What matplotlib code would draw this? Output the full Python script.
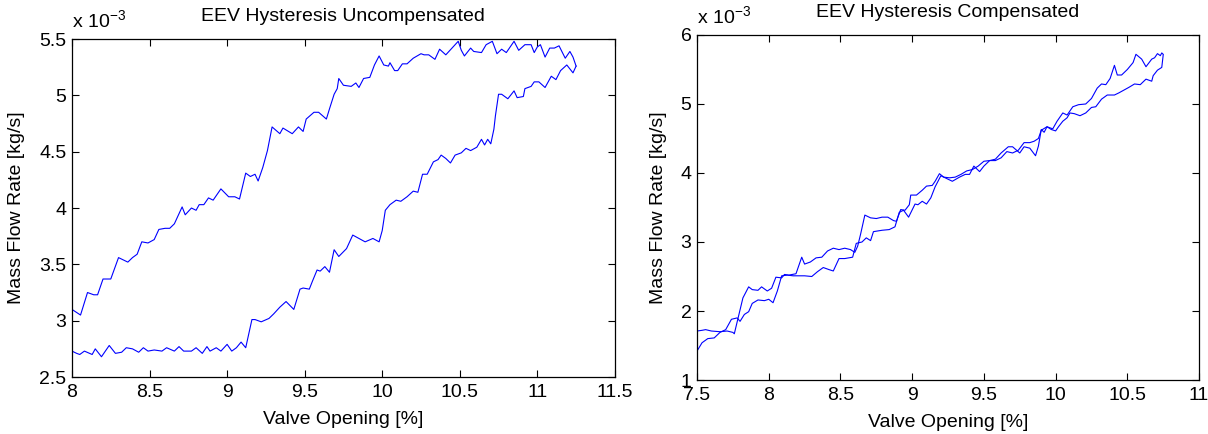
import matplotlib
matplotlib.use("Agg")
import matplotlib.pyplot as plt

plt.rcParams['font.family'] = ['Liberation Sans', 'DejaVu Sans']

# uncompensated: upper branch (left -> right), flow in 1e-3 kg/s
unc_up_x = [8.00, 8.00, 8.00, 8.055, 8.10, 8.14, 8.165, 8.20, 8.25, 8.30, 8.36, 8.39, 8.42, 8.45,
            8.49, 8.53, 8.56, 8.60, 8.63, 8.66, 8.71, 8.73, 8.77, 8.80, 8.82, 8.85, 8.88,
            8.91, 8.96, 9.01, 9.05, 9.08, 9.12, 9.15, 9.18, 9.20, 9.23, 9.26, 9.29, 9.34,
            9.36, 9.42, 9.46, 9.49, 9.51, 9.56, 9.59, 9.64, 9.66, 9.69, 9.71, 9.72, 9.75,
            9.80, 9.83, 9.85, 9.88, 9.92, 9.95, 9.98, 10.01, 10.04, 10.05, 10.08, 10.10,
            10.13, 10.16, 10.20, 10.25, 10.27, 10.30, 10.34, 10.37, 10.41, 10.45, 10.49,
            10.51, 10.53, 10.57, 10.59, 10.64, 10.67, 10.71, 10.74, 10.77, 10.80, 10.85,
            10.88, 10.92, 10.96, 10.98, 11.00, 11.02, 11.05, 11.08, 11.11, 11.14, 11.18,
            11.21, 11.23, 11.25]
unc_up_y = [2.61, 3.13, 3.10, 3.05, 3.25, 3.23, 3.23, 3.37, 3.37, 3.56, 3.52, 3.56, 3.59, 3.70,
            3.69, 3.72, 3.81, 3.82, 3.82, 3.86, 4.01, 3.94, 4.00, 3.98, 4.03, 4.03, 4.09,
            4.07, 4.17, 4.10, 4.10, 4.08, 4.31, 4.28, 4.30, 4.24, 4.36, 4.51, 4.72, 4.66,
            4.71, 4.66, 4.72, 4.68, 4.79, 4.85, 4.85, 4.79, 4.88, 5.01, 5.06, 5.15, 5.09,
            5.08, 5.11, 5.07, 5.15, 5.16, 5.27, 5.35, 5.27, 5.26, 5.29, 5.22, 5.22,
            5.28, 5.28, 5.33, 5.37, 5.36, 5.36, 5.32, 5.41, 5.36, 5.42, 5.48,
            5.40, 5.35, 5.42, 5.39, 5.38, 5.45, 5.48, 5.37, 5.41, 5.38, 5.48,
            5.40, 5.45, 5.45, 5.38, 5.43, 5.45, 5.34, 5.42, 5.42, 5.44, 5.33,
            5.39, 5.34, 5.26]

# uncompensated: lower branch (right -> left)
unc_dn_x = [11.25, 11.23, 11.19, 11.15, 11.12, 11.09, 11.05, 11.01, 10.98, 10.96, 10.92, 10.91,
            10.87, 10.85, 10.81, 10.77, 10.75, 10.73, 10.72, 10.70, 10.68, 10.66, 10.64,
            10.61, 10.57, 10.54, 10.51, 10.47, 10.44, 10.41, 10.38, 10.36, 10.33, 10.29,
            10.26, 10.23, 10.20, 10.16, 10.12, 10.09, 10.05, 10.02, 10.00, 9.98, 9.94,
            9.89, 9.85, 9.81, 9.77, 9.72, 9.69, 9.66, 9.63, 9.60, 9.58, 9.55, 9.53, 9.49,
            9.47, 9.43, 9.38, 9.34, 9.30, 9.27, 9.22, 9.18, 9.16, 9.12, 9.09, 9.06, 9.03,
            9.00, 8.96, 8.93, 8.89, 8.87, 8.84, 8.80, 8.77, 8.72, 8.69, 8.66, 8.61, 8.58,
            8.53, 8.49, 8.46, 8.43, 8.39, 8.35, 8.32, 8.28, 8.24, 8.19, 8.15, 8.13, 8.08,
            8.05, 8.03, 8.00]
unc_dn_y = [5.26, 5.20, 5.27, 5.22, 5.14, 5.17, 5.07, 5.12, 5.12, 5.08, 5.06, 4.99,
            4.98, 5.04, 4.97, 5.01, 5.01, 4.82, 4.70, 4.57, 4.61, 4.56, 4.61,
            4.54, 4.51, 4.53, 4.49, 4.47, 4.40, 4.44, 4.47, 4.43, 4.41, 4.30,
            4.30, 4.14, 4.15, 4.10, 4.06, 4.07, 4.03, 3.98, 3.80, 3.70, 3.73,
            3.70, 3.73, 3.76, 3.64, 3.57, 3.63, 3.43, 3.48, 3.44, 3.45, 3.35, 3.28, 3.29,
            3.28, 3.10, 3.17, 3.12, 3.06, 3.02, 2.99, 3.01, 3.01, 2.76, 2.81, 2.76, 2.73,
            2.79, 2.73, 2.76, 2.73, 2.77, 2.71, 2.76, 2.73, 2.73, 2.77, 2.73, 2.76, 2.73,
            2.74, 2.73, 2.76, 2.72, 2.75, 2.76, 2.72, 2.71, 2.78, 2.68, 2.75, 2.70, 2.73,
            2.70, 2.71, 2.73]

# compensated: branch A
cmp_a_x = [7.50, 7.535, 7.56, 7.60, 7.66, 7.71, 7.75, 7.76, 7.79, 7.82, 7.86, 7.885, 7.925,
           7.95, 7.99, 8.02, 8.05, 8.09, 8.11, 8.14, 8.19, 8.23, 8.25, 8.29, 8.33, 8.37,
           8.41, 8.45, 8.49, 8.53, 8.57, 8.60, 8.62, 8.64, 8.67, 8.71, 8.75, 8.79, 8.83,
           8.87, 8.89, 8.92, 8.95, 8.98, 8.99, 9.03, 9.07, 9.10, 9.14, 9.16, 9.19, 9.22,
           9.26, 9.30, 9.34, 9.38, 9.42, 9.46, 9.50, 9.54, 9.58, 9.62, 9.67, 9.70, 9.75,
           9.78, 9.82, 9.86, 9.88, 9.90, 9.92, 9.94, 9.98, 10.01, 10.05, 10.08, 10.12,
           10.16, 10.21, 10.25, 10.29, 10.32, 10.35, 10.38, 10.41, 10.43, 10.46, 10.50,
           10.54, 10.56, 10.60, 10.63, 10.67, 10.69, 10.71, 10.73, 10.74, 10.75]
cmp_a_y = [1.71, 1.72, 1.73, 1.71, 1.70, 1.71, 1.69, 1.67, 1.93, 2.19, 2.35, 2.31, 2.30,
           2.35, 2.29, 2.33, 2.49, 2.48, 2.53, 2.52, 2.54, 2.78, 2.68, 2.71, 2.77, 2.78,
           2.87, 2.91, 2.89, 2.91, 2.89, 2.85, 2.94, 3.11, 3.39, 3.35, 3.34, 3.36, 3.36,
           3.31, 3.30, 3.47, 3.46, 3.54, 3.68, 3.68, 3.75, 3.81, 3.82, 3.88, 3.99, 3.94,
           3.93, 3.94, 3.98, 4.03, 4.05, 4.10, 4.17, 4.18, 4.20, 4.29, 4.38, 4.38, 4.29,
           4.38, 4.36, 4.25, 4.39, 4.63, 4.59, 4.67, 4.64, 4.75, 4.87, 4.84, 4.96,
           4.99, 5.00, 5.08, 5.23, 5.29, 5.28, 5.37, 5.56, 5.42, 5.42, 5.50,
           5.60, 5.72, 5.65, 5.54, 5.65, 5.67, 5.73, 5.70, 5.74, 5.72]

# compensated: branch B
cmp_b_x = [7.50, 7.535, 7.575, 7.62, 7.66, 7.70, 7.74, 7.78, 7.80, 7.83, 7.86, 7.885, 7.925,
           7.97, 8.00, 8.03, 8.06, 8.09, 8.13, 8.17, 8.21, 8.25, 8.30, 8.34, 8.38, 8.42,
           8.45, 8.49, 8.53, 8.585, 8.61, 8.65, 8.68, 8.71, 8.73, 8.79, 8.84, 8.88, 8.91,
           8.94, 8.975, 9.02, 9.04, 9.07, 9.10, 9.13, 9.16, 9.20, 9.24, 9.28, 9.33, 9.37,
           9.40, 9.43, 9.47, 9.50, 9.54, 9.58, 9.62, 9.66, 9.70, 9.74, 9.78, 9.82, 9.85,
           9.88, 9.90, 9.94, 9.97, 10.00, 10.02, 10.05, 10.08, 10.10, 10.13, 10.17, 10.21,
           10.25, 10.28, 10.32, 10.36, 10.41, 10.44, 10.51, 10.55, 10.59, 10.63, 10.67,
           10.68, 10.71, 10.74, 10.75]
cmp_b_y = [1.42, 1.54, 1.60, 1.61, 1.69, 1.73, 1.88, 1.90, 1.85, 1.95, 1.99, 2.11, 2.16,
           2.15, 2.17, 2.12, 2.29, 2.51, 2.52, 2.51, 2.51, 2.51, 2.50, 2.57, 2.63, 2.60,
           2.58, 2.76, 2.76, 2.78, 2.98, 3.00, 3.06, 3.02, 3.15, 3.17, 3.18, 3.22, 3.43,
           3.46, 3.36, 3.55, 3.54, 3.59, 3.55, 3.64, 3.80, 3.96, 3.92, 3.88, 3.94, 3.98,
           3.98, 4.10, 4.02, 4.10, 4.18, 4.18, 4.22, 4.31, 4.29, 4.33, 4.44, 4.44, 4.46,
           4.50, 4.62, 4.67, 4.63, 4.61, 4.67, 4.75, 4.80, 4.87, 4.86, 4.83, 4.87,
           4.95, 4.96, 5.07, 5.13, 5.13, 5.16, 5.24, 5.29, 5.28, 5.36, 5.33,
           5.41, 5.49, 5.53, 5.71]

fig = plt.figure(figsize=(12.08, 4.34), dpi=100)
ax1 = fig.add_axes([0.0596, 0.1313, 0.4494, 0.7787])
ax2 = fig.add_axes([0.5770, 0.1244, 0.4156, 0.7950])

ax1.plot(unc_up_x, unc_up_y, color='b', lw=0.8)
ax1.plot(unc_dn_x, unc_dn_y, color='b', lw=0.8)
ax2.plot(cmp_a_x, cmp_a_y, color='b', lw=0.8)
ax2.plot(cmp_b_x, cmp_b_y, color='b', lw=0.8)

ax1.set_xlim(8, 11.5)
ax1.set_ylim(2.5, 5.5)
ax1.set_xticks([8, 8.5, 9, 9.5, 10, 10.5, 11, 11.5])
ax1.set_xticklabels(['8', '8.5', '9', '9.5', '10', '10.5', '11', '11.5'])
ax1.set_yticks([2.5, 3, 3.5, 4, 4.5, 5, 5.5])
ax1.set_yticklabels(['2.5', '3', '3.5', '4', '4.5', '5', '5.5'])
ax1.set_title('EEV Hysteresis Uncompensated', fontsize=14, pad=13)

ax2.set_xlim(7.5, 11)
ax2.set_ylim(1, 6)
ax2.set_xticks([7.5, 8, 8.5, 9, 9.5, 10, 10.5, 11])
ax2.set_xticklabels(['7.5', '8', '8.5', '9', '9.5', '10', '10.5', '11'])
ax2.set_yticks([1, 2, 3, 4, 5, 6])
ax2.set_yticklabels(['1', '2', '3', '4', '5', '6'])
ax2.set_title('EEV Hysteresis Compensated', fontsize=14, pad=13)

for ax in (ax1, ax2):
    ax.set_xlabel('Valve Opening [%]', fontsize=14, labelpad=7)
    ax.set_ylabel('Mass Flow Rate [kg/s]', fontsize=14, labelpad=10)
    ax.tick_params(axis='both', direction='in', top=True, right=True, length=5,
                   width=0.8, labelsize=14)
    ax.tick_params(axis='x', pad=5)
    ax.tick_params(axis='y', pad=4)
    for s in ax.spines.values():
        s.set_linewidth(0.9)
    ax.text(0.0, 1.02, r'x 10$^{\mathregular{-3}}$', transform=ax.transAxes,
            fontsize=14, ha='left', va='bottom')

fig.savefig('out.png', dpi=100)
